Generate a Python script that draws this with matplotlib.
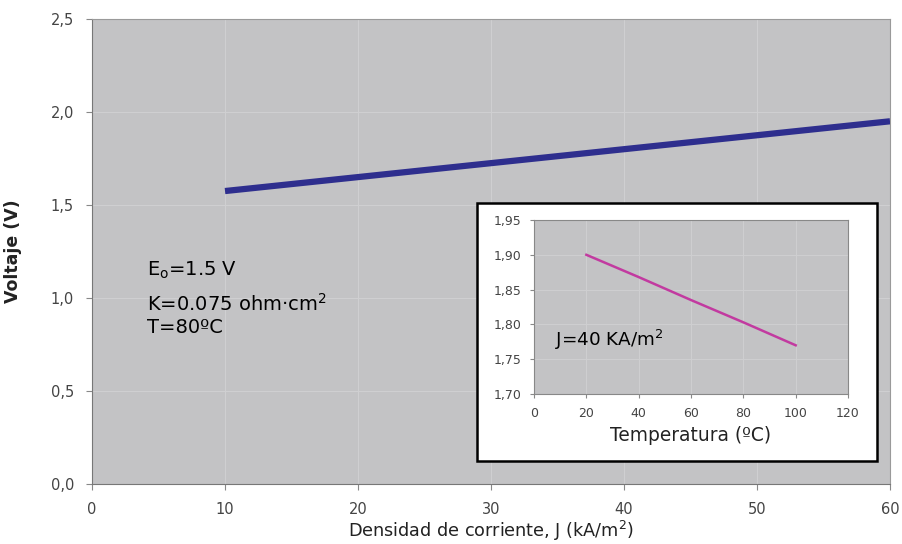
import matplotlib
matplotlib.use("Agg")
import matplotlib.pyplot as plt
import matplotlib.patches as patches

# main curve: voltage vs current density
density = [10, 20, 30, 40, 50, 60]
voltage = [1.575, 1.65, 1.725, 1.80, 1.875, 1.95]
x_ticks = [0, 10, 20, 30, 40, 50, 60]
y_ticks = [0.0, 0.5, 1.0, 1.5, 2.0, 2.5]
y_labels = ["0,0", "0,5", "1,0", "1,5", "2,0", "2,5"]

# inset: voltage vs temperature at J=40
temperature = [20, 40, 60, 80, 100]
voltage_t = [1.90, 1.868, 1.835, 1.803, 1.77]
t_ticks = [0, 20, 40, 60, 80, 100, 120]
vt_ticks = [1.70, 1.75, 1.80, 1.85, 1.90, 1.95]
vt_labels = ["1,70", "1,75", "1,80", "1,85", "1,90", "1,95"]

bg = "#c3c3c5"
grid_c = "#cfcfd1"
tick_c = "#444444"

fig = plt.figure(figsize=(9.03, 5.44), dpi=100)
fig.patch.set_facecolor("white")

ax = fig.add_axes([0.1019, 0.1103, 0.8837, 0.8548])
ax.set_facecolor(bg)
ax.plot(density, voltage, color="#2e2e8e", linewidth=4.5, solid_capstyle="butt", zorder=3)
ax.set_xlim(0, 60)
ax.set_ylim(0, 2.5)
ax.set_xticks(x_ticks)
ax.set_yticks(y_ticks)
ax.set_yticklabels(y_labels)
ax.grid(True, color=grid_c, linewidth=0.8)
ax.set_axisbelow(True)
ax.tick_params(colors="#888888", labelcolor=tick_c, labelsize=10.5, length=4, width=0.8, pad=9)
for side in ["top", "right"]:
    ax.spines[side].set_color("#9a9a9a")
for side in ["left", "bottom"]:
    ax.spines[side].set_color("#777777")
ax.set_xlabel("Densidad de corriente, J (kA/m$^2$)", fontsize=12.7, color="#222222", labelpad=1)
ax.set_ylabel("Voltaje (V)", fontsize=12.5, fontweight="bold", color="#222222")
ax.yaxis.set_label_coords(-0.088, 0.5)

ax.text(4.1, 1.15, "E$_\\mathregular{o}$=1.5 V", fontsize=14, va="center")
ax.text(4.1, 0.97, "K=0.075 ohm·cm$^\\mathregular{2}$", fontsize=14, va="center")
ax.text(4.1, 0.84, "T=80ºC", fontsize=14, va="center")

# white box behind the inset chart
box = patches.Rectangle((0.528, 0.1526), 0.443, 0.474, transform=fig.transFigure,
                        facecolor="white", edgecolor="black", linewidth=1.8, zorder=5)
fig.patches.append(box)

ins = fig.add_axes([0.5914, 0.2757, 0.3477, 0.3199], zorder=6)
ins.set_facecolor(bg)
ins.plot(temperature, voltage_t, color="#c23aa0", linewidth=1.8)
ins.set_xlim(0, 120)
ins.set_ylim(1.70, 1.95)
ins.set_xticks(t_ticks)
ins.set_yticks(vt_ticks)
ins.set_yticklabels(vt_labels)
ins.grid(True, color=grid_c, linewidth=0.7)
ins.set_axisbelow(True)
ins.tick_params(colors="#888888", labelcolor=tick_c, labelsize=9, length=3, width=0.8, pad=6)
for side in ins.spines:
    ins.spines[side].set_color("#888888")
ins.set_xlabel("Temperatura (ºC)", fontsize=13.4, color="#222222", labelpad=5)
ins.text(8, 1.778, "J=40 KA/m$^\\mathregular{2}$", fontsize=13.2, va="center")

fig.savefig("out.png", dpi=100)
